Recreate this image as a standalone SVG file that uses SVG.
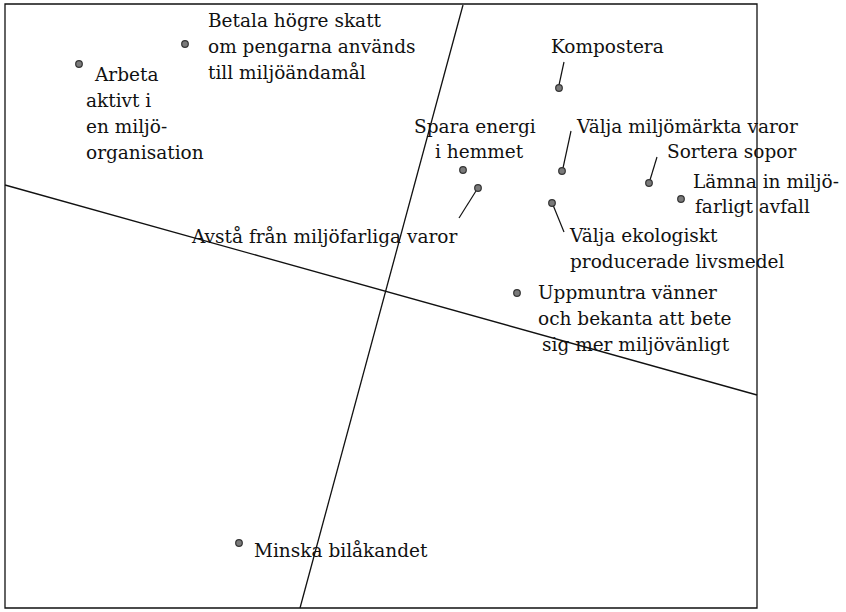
<svg xmlns="http://www.w3.org/2000/svg" width="846" height="612" viewBox="0 0 846 612">
<style>
.t{font-family:"DejaVu Serif","Liberation Serif",serif;font-size:18.5px;fill:#111}
.d{fill:#7a7a7a;stroke:#333;stroke-width:1.2}
.l{stroke:#111;stroke-width:1.2;fill:none}
.ax{stroke:#111;stroke-width:1.3;fill:none}
</style>
<rect width="846" height="612" fill="#fff"/>
<g id="frame">
<path class="ax" d="M5,4 H757 V608 H5 Z" stroke="#444"/>
</g>
<g id="connectors">
<line class="ax" x1="463" y1="5" x2="300" y2="608"/>
<line class="ax" x1="5" y1="185" x2="757" y2="395"/>
<line class="l" x1="564" y1="62" x2="559" y2="85"/>
<line class="l" x1="459" y1="218" x2="476" y2="191"/>
<line class="l" x1="571" y1="131" x2="563" y2="168"/>
<line class="l" x1="657" y1="157" x2="650" y2="180"/>
<line class="l" x1="553" y1="205" x2="564" y2="232"/>
</g>
<g id="arbeta"><circle class="d" cx="79" cy="64" r="3.3"/><text class="t" x="95" y="81">Arbeta</text><text class="t" x="86" y="107">aktivt i</text><text class="t" x="86" y="133">en miljö-</text><text class="t" x="86" y="159">organisation</text></g>
<g id="betala"><circle class="d" cx="185" cy="44" r="3.3"/><text class="t" x="208" y="27">Betala högre skatt</text><text class="t" x="208" y="53">om pengarna används</text><text class="t" x="208" y="79">till miljöändamål</text></g>
<g id="kompostera"><circle class="d" cx="559" cy="88" r="3.3"/><text class="t" x="551" y="53">Kompostera</text></g>
<g id="spara"><circle class="d" cx="463" cy="170" r="3.3"/><text class="t" x="414" y="133">Spara energi</text><text class="t" x="435" y="158">i hemmet</text></g>
<g id="avsta"><circle class="d" cx="478" cy="188" r="3.3"/><text class="t" x="192" y="243">Avstå från miljöfarliga varor</text></g>
<g id="miljomarkta"><circle class="d" cx="562" cy="171" r="3.3"/><text class="t" x="577" y="133">Välja miljömärkta varor</text></g>
<g id="sortera"><circle class="d" cx="649" cy="183" r="3.3"/><text class="t" x="667" y="158">Sortera sopor</text></g>
<g id="lamna"><circle class="d" cx="681" cy="199" r="3.3"/><text class="t" x="693" y="188">Lämna in miljö-</text><text class="t" x="695" y="213">farligt avfall</text></g>
<g id="ekologiskt"><circle class="d" cx="552" cy="203" r="3.3"/><text class="t" x="570" y="242">Välja ekologiskt</text><text class="t" x="570" y="268">producerade livsmedel</text></g>
<g id="uppmuntra"><circle class="d" cx="517" cy="293" r="3.3"/><text class="t" x="538" y="299">Uppmuntra vänner</text><text class="t" x="538" y="325">och bekanta att bete</text><text class="t" x="542" y="351">sig mer miljövänligt</text></g>
<g id="minska"><circle class="d" cx="239" cy="543" r="3.3"/><text class="t" x="254" y="557">Minska bilåkandet</text></g>
</svg>
